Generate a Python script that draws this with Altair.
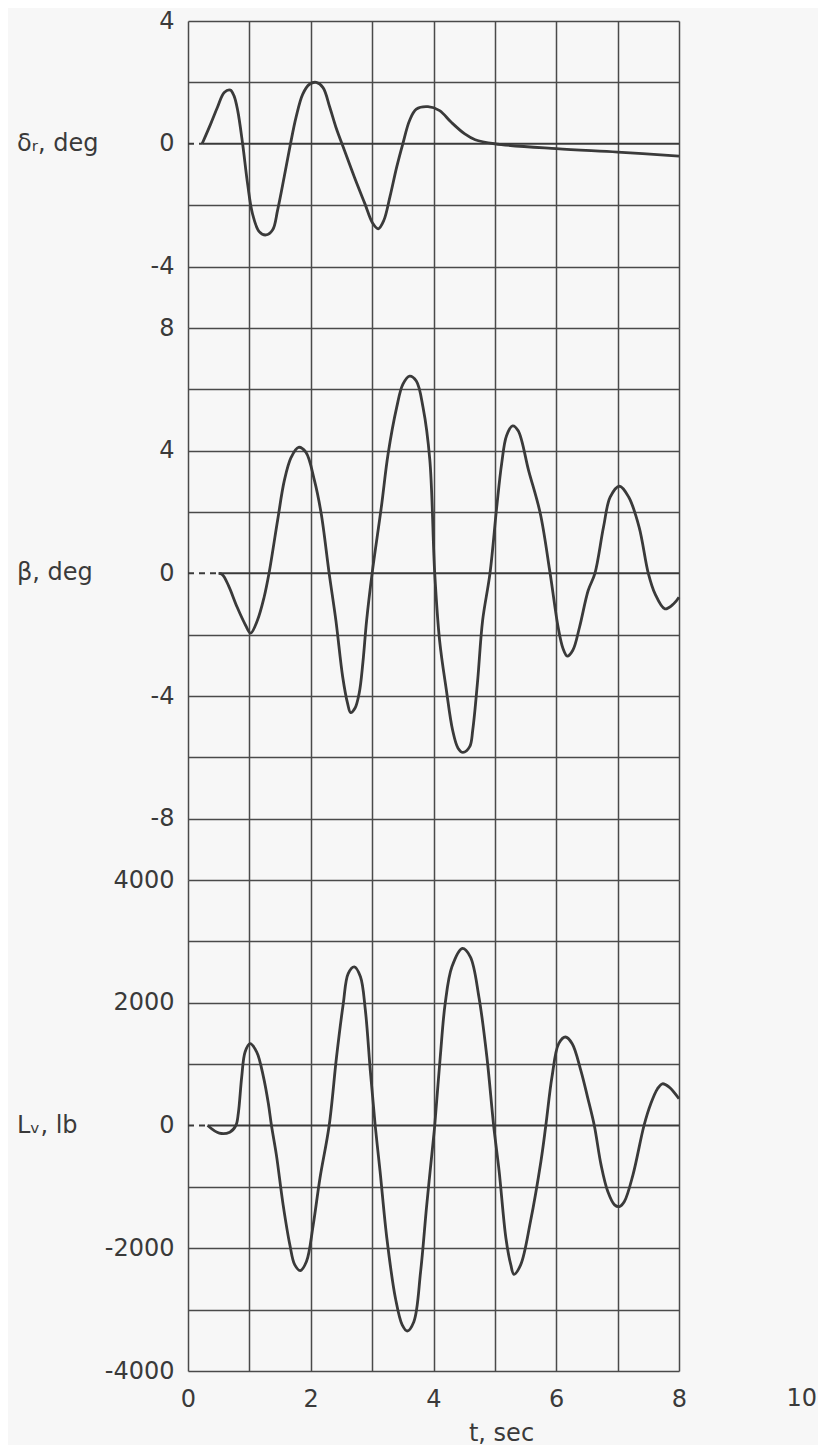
import altair as alt
import pandas as pd

# ---------------- data ----------------
# rudder deflection, deg
t_dr = [0.23, 0.37, 0.48, 0.59, 0.69, 0.75, 0.81, 0.89, 0.97, 1.05,
        1.16, 1.27, 1.38, 1.46, 1.57, 1.67, 1.76, 1.87, 1.98, 2.09,
        2.20, 2.31, 2.41, 2.55, 2.71, 2.88, 3.01, 3.10, 3.19, 3.29,
        3.40, 3.50, 3.61, 3.72, 3.91, 4.10, 4.29, 4.51, 4.68, 5.00,
        6.00, 7.00, 8.00]
v_dr = [0.0, 0.65, 1.19, 1.67, 1.75, 1.56, 1.08, 0.0, -1.29, -2.27,
        -2.86, -2.97, -2.80, -2.16, -1.05, 0.0, 0.86, 1.62, 1.94, 2.0,
        1.83, 1.19, 0.54, -0.22, -1.08, -1.94, -2.59, -2.77, -2.50, -1.73,
        -0.76, 0.0, 0.76, 1.13, 1.21, 1.08, 0.70, 0.32, 0.13, 0.0,
        -0.16, -0.27, -0.40]

# sideslip, deg
t_b = [0.50, 0.56, 0.66, 0.80, 0.94, 1.02, 1.13, 1.24, 1.32, 1.46,
       1.57, 1.68, 1.80, 1.92, 2.06, 2.17, 2.30, 2.41, 2.52, 2.60,
       2.65, 2.72, 2.79, 2.85, 2.91, 3.00, 3.15, 3.26, 3.40, 3.50,
       3.61, 3.72, 3.83, 3.94, 4.02, 4.10, 4.21, 4.31, 4.40, 4.48,
       4.59, 4.64, 4.72, 4.80, 4.92, 5.03, 5.11, 5.19, 5.29, 5.38,
       5.55, 5.74, 5.90, 6.03, 6.11, 6.18, 6.27, 6.38, 6.52, 6.63,
       6.77, 6.88, 7.03, 7.18, 7.35, 7.50, 7.61, 7.77, 7.91, 8.00]
v_b = [0.0, -0.04, -0.40, -1.10, -1.70, -1.95, -1.54, -0.78, 0.0, 1.73,
       3.03, 3.78, 4.11, 3.95, 3.03, 1.95, 0.0, -1.54, -3.37, -4.24,
       -4.54, -4.40, -3.90, -2.90, -1.54, 0.0, 2.16, 3.89, 5.41, 6.16,
       6.43, 6.27, 5.41, 3.70, 0.0, -2.20, -3.81, -5.10, -5.70, -5.84,
       -5.65, -5.10, -3.48, -1.54, 0.0, 2.16, 3.57, 4.49, 4.81, 4.65,
       3.35, 1.95, 0.0, -1.75, -2.45, -2.70, -2.51, -1.75, -0.56, 0.0,
       1.51, 2.49, 2.84, 2.49, 1.51, 0.0, -0.67, -1.16, -1.0, -0.78]

# vertical-tail side force, lb
t_l = [0.32, 0.51, 0.68, 0.78, 0.82, 0.875, 0.93, 1.01, 1.12, 1.23,
       1.31, 1.36, 1.44, 1.55, 1.66, 1.74, 1.83, 1.93, 2.04, 2.15,
       2.30, 2.42, 2.53, 2.61, 2.71, 2.81, 2.89, 2.97, 3.05, 3.13,
       3.24, 3.38, 3.49, 3.57, 3.68, 3.79, 3.89, 4.00, 4.02, 4.11,
       4.19, 4.30, 4.47, 4.60, 4.74, 4.87, 4.98, 5.07, 5.18, 5.26,
       5.31, 5.42, 5.58, 5.75, 5.83, 5.93, 6.04, 6.15, 6.26, 6.40,
       6.51, 6.62, 6.73, 6.84, 6.95, 7.03, 7.11, 7.25, 7.43, 7.54,
       7.65, 7.73, 7.84, 8.00]
v_l = [0, -125, -109, 0, 200, 790, 1197, 1333, 1197, 789,
       354, 0, -478, -1293, -1946, -2272, -2364, -2217, -1620, -859,
       0, 1116, 1986, 2476, 2585, 2422, 1878, 898, 0, -750,
       -1837, -2815, -3250, -3348, -3196, -2380, -1293, -207, 0, 1116,
       1986, 2585, 2884, 2748, 2095, 1116, 0, -750, -1837, -2272,
       -2424, -2272, -1565, -587, 0, 789, 1333, 1442, 1333, 898,
       463, 0, -641, -1076, -1293, -1321, -1239, -804, 0, 354,
       599, 680, 626, 435]

panel_names = ["δᵣ, deg", "β, deg", "Lᵥ, lb"]
dash_ends = [0.23, 0.50, 0.32]
x_ticks = [0, 1, 2, 3, 4, 5, 6, 7, 8]
extra_x_label = [10]

# ---------------- style ----------------
FONT = "DejaVu Sans"
FS = 24
INK = "#3a3a3a"
GRID = "#4a4a4a"
W = 491
ROW = 1350 / 22


def panel(t, v, lo, hi, step, shown, name, dash_end, rows, bottom=False):
    H = round(rows * ROW)
    df = pd.DataFrame({"t": t, "v": v})
    yvals = list(range(lo, hi + step, step))
    shown_js = "[" + ",".join(str(s) for s in shown) + "]"
    hide = "datum.value === 0" if bottom else f"datum.value === 0 || datum.value === {lo}"
    yaxis = alt.Axis(
        values=yvals, grid=True, ticks=False, domain=False,
        labelExpr=f"indexof({shown_js}, datum.value) >= 0 ? toString(datum.value) : ''",
        labelFont=FONT, labelFontSize=FS, labelColor=INK, labelPadding=14,
        gridColor=GRID, gridWidth=1.5,
        gridOpacity={"condition": {"test": hide, "value": 0}, "value": 1},
        title=None,
    )
    if bottom:
        xaxis = alt.Axis(
            values=x_ticks, grid=True, ticks=False, domain=False,
            labelExpr="datum.value % 2 === 0 ? toString(datum.value) : ''",
            labelFont=FONT, labelFontSize=FS, labelColor=INK, labelPadding=16,
            labelFlush=False,
            gridColor=GRID, gridWidth=1.5,
            title="t, sec", titleFont=FONT, titleFontSize=FS, titleFontWeight="normal",
            titleColor=INK, titleX=313, titleY=69, titleBaseline="alphabetic",
        )
    else:
        xaxis = alt.Axis(values=x_ticks, grid=True, ticks=False, domain=False,
                         labels=False, gridColor=GRID, gridWidth=1.5, title=None)

    xs = alt.Scale(domain=[0, 8], nice=False, zero=False)
    ys = alt.Scale(domain=[lo, hi], nice=False, zero=False)

    curve = alt.Chart(df).mark_line(color=INK, strokeWidth=2.8, interpolate="catmull-rom").encode(
        x=alt.X("t:Q", scale=xs, axis=xaxis),
        y=alt.Y("v:Q", scale=ys, axis=yaxis),
    )
    zero = alt.Chart(pd.DataFrame({"t": [dash_end, 8], "v": [0, 0]})).mark_line(
        color=INK, strokeWidth=2.0).encode(x="t:Q", y="v:Q")
    dashed = alt.Chart(pd.DataFrame({"t": [0, dash_end], "v": [0, 0]})).mark_line(
        color=INK, strokeWidth=2.0, strokeDash=[6, 5]).encode(x="t:Q", y="v:Q")
    label = alt.Chart(pd.DataFrame({"label": [name], "v": [0]})).mark_text(
        align="left", baseline="middle", font=FONT, fontSize=FS, color=INK).encode(
        x=alt.value(-171), y="v:Q", text="label:N")
    layers = [zero, dashed, curve, label]
    if bottom:
        ten = alt.Chart(pd.DataFrame({"t": extra_x_label})).mark_text(
            align="center", baseline="top", font=FONT, fontSize=FS, color=INK).encode(
            x="t:Q", y=alt.value(H + 16), text="t:Q")
        layers.append(ten)
    return alt.layer(*layers).properties(width=W, height=H)


p1 = panel(t_dr, v_dr, -6, 4, 2, [4, 0, -4], panel_names[0], dash_ends[0], 5)
p2 = panel(t_b, v_b, -10, 8, 2, [8, 4, 0, -4, -8], panel_names[1], dash_ends[1], 9)
p3 = panel(t_l, v_l, -4000, 4000, 1000, [4000, 2000, 0, -2000, -4000],
           panel_names[2], dash_ends[2], 8, bottom=True)

chart = alt.vconcat(p1, p2, p3, spacing=0, bounds="flush").properties(
    padding={"left": 9, "top": 1, "right": 0, "bottom": 0},
    background="#f7f7f7",
).configure_view(strokeWidth=0)

chart.save("out.html", embed_options={"renderer": "svg", "actions": False})
